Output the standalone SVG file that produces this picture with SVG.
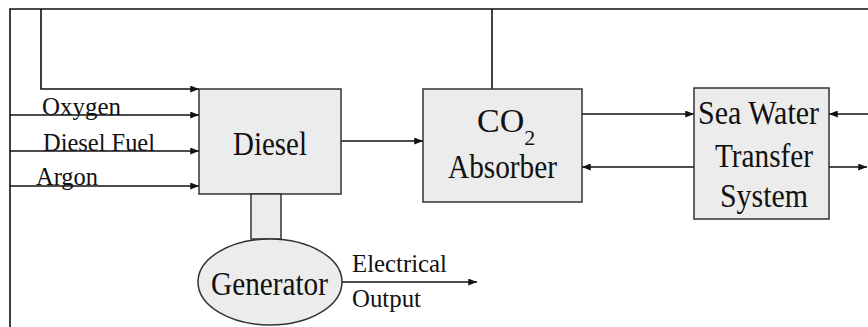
<svg xmlns="http://www.w3.org/2000/svg" width="868" height="327" viewBox="0 0 868 327">
<style>
.box{fill:#ececec;stroke:#333;stroke-width:1.5}
.ln{fill:none;stroke:#111;stroke-width:1.6}
text{font-family:"Liberation Serif","DejaVu Serif",serif;fill:#111}
</style>
<defs>
<marker id="ah" viewBox="0 0 10 8" refX="10" refY="4" markerWidth="9" markerHeight="7" markerUnits="userSpaceOnUse" orient="auto">
<path d="M0,0 L10,4 L0,8 z" fill="#111"/>
</marker>
</defs>
<rect width="868" height="327" fill="#fff"/>
<g id="connectors">
<path class="ln" d="M10,327 V9 H868"/>
<path class="ln" d="M41,9 V89 H199" marker-end="url(#ah)"/>
<path class="ln" d="M492,9 V89"/>
<path class="ln" d="M10,115 H199" marker-end="url(#ah)"/>
<path class="ln" d="M10,151 H199" marker-end="url(#ah)"/>
<path class="ln" d="M10,186 H199" marker-end="url(#ah)"/>
<path class="ln" d="M341,141 H423" marker-end="url(#ah)"/>
<path class="ln" d="M582,114 H694" marker-end="url(#ah)"/>
<path class="ln" d="M694,167 H582" marker-end="url(#ah)"/>
<path class="ln" d="M868,114 H829" marker-end="url(#ah)"/>
<path class="ln" d="M829,167 H867" marker-end="url(#ah)"/>
<path class="ln" d="M342,282 H477" marker-end="url(#ah)"/>
</g>
<g id="labels">
<text x="42" y="115" font-size="25" textLength="79" lengthAdjust="spacingAndGlyphs">Oxygen</text>
<text x="43" y="151" font-size="25" textLength="112" lengthAdjust="spacingAndGlyphs">Diesel Fuel</text>
<text x="36" y="185" font-size="25" textLength="62" lengthAdjust="spacingAndGlyphs">Argon</text>
<text x="352" y="272" font-size="26" textLength="95" lengthAdjust="spacingAndGlyphs">Electrical</text>
<text x="352" y="307" font-size="26" textLength="69" lengthAdjust="spacingAndGlyphs">Output</text>
</g>
<g id="diesel">
<rect class="box" x="199" y="89" width="142" height="105"/>
<text x="233" y="155" font-size="34" textLength="74" lengthAdjust="spacingAndGlyphs">Diesel</text>
</g>
<g id="shaft">
<rect class="box" x="251" y="194" width="30" height="45"/>
</g>
<g id="generator">
<ellipse class="box" cx="270" cy="282" rx="72" ry="43"/>
<text x="211" y="295" font-size="34" textLength="117" lengthAdjust="spacingAndGlyphs">Generator</text>
</g>
<g id="co2-absorber">
<rect class="box" x="423" y="89" width="159" height="113"/>
<text x="477" y="132" font-size="34">CO<tspan dy="13" font-size="22">2</tspan></text>
<text x="448" y="178" font-size="34" textLength="109" lengthAdjust="spacingAndGlyphs">Absorber</text>
</g>
<g id="sea-water">
<rect class="box" x="694" y="88" width="135" height="131"/>
<text x="698" y="124" font-size="34" textLength="121" lengthAdjust="spacingAndGlyphs">Sea Water</text>
<text x="715" y="167" font-size="34" textLength="98" lengthAdjust="spacingAndGlyphs">Transfer</text>
<text x="720" y="207" font-size="34" textLength="88" lengthAdjust="spacingAndGlyphs">System</text>
</g>
</svg>
